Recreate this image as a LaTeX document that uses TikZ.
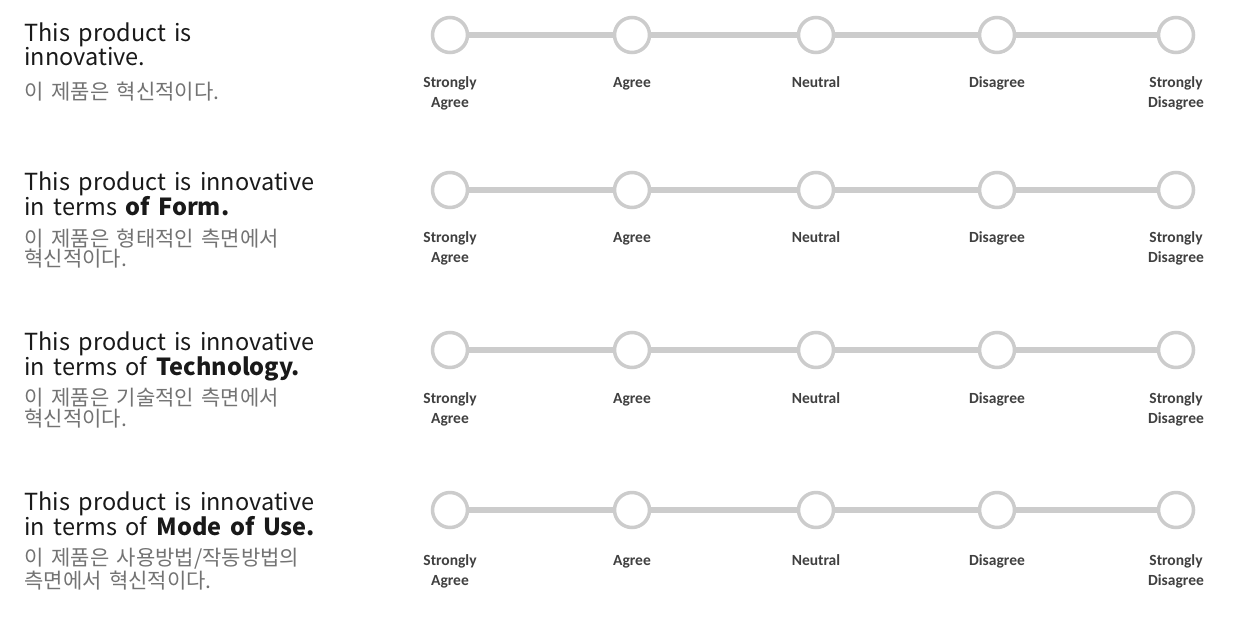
\documentclass[tikz,border=0pt]{standalone}
\usepackage{fontspec}
\newfontfamily\kr[WordSpace=1.6]{Noto Sans CJK KR}
\newfontfamily\lab{Carlito}
\begin{document}
\begin{tikzpicture}[x=1pt,y=-1pt,
 circ/.style={circle,draw=lgray,line width=3.5pt,fill=white,minimum size=35pt,inner sep=0pt},
 lbl/.style={font=\lab\bfseries\fontsize{15.5}{20}\selectfont,text=black!75,align=center,anchor=north},
 en/.style={font=\kr\fontsize{23.5}{20.5}\selectfont,anchor=north west,align=left,text=black!90},
 ko/.style={font=\kr\fontsize{21}{20.5}\selectfont,anchor=north west,align=left,text=black!55}]
\definecolor{lgray}{HTML}{CCCCCC}
\useasboundingbox (0,0) rectangle (1238,624);
\fill[white] (0,0) rectangle (1238,624);
\foreach \r/\cy/\ly in {1/35/70, 2/190/225, 3/350/386, 4/510/548}{
  \foreach \i/\x in {1/450,2/632,3/816,4/997,5/1176}{
    \node[circ] (c\r\i) at (\x,\cy) {};
  }
  \foreach \i [evaluate=\i as \j using int(\i+1)] in {1,2,3,4}{
    \draw[lgray,line width=6pt] (c\r\i) -- (c\r\j);
  }
  \node[lbl] (s\r1) at (450,\ly) {\strut Strongly\\Agree};
  \node[lbl] (s\r2) at (632,\ly) {\strut Agree};
  \node[lbl] (s\r3) at (816,\ly) {\strut Neutral};
  \node[lbl] (s\r4) at (997,\ly) {\strut Disagree};
  \node[lbl] (s\r5) at (1176,\ly) {\strut Strongly\\Disagree};
}
\node[en] (e1) at (21,19) {This product is\\innovative.};
\node[ko] (k1) at (21,78) {이 제품은 혁신적이다.};
\node[en] (e2) at (21,168) {This product is innovative\\in terms \textbf{of Form.}};
\node[ko] (k2) at (21,225) {이 제품은 형태적인 측면에서\\혁신적이다.};
\node[en] (e3) at (21,328) {This product is innovative\\in terms of \textbf{Technology.}};
\node[ko] (k3) at (21,385) {이 제품은 기술적인 측면에서\\혁신적이다.};
\node[en] (e4) at (21,488) {This product is innovative\\in terms of \textbf{Mode of Use.}};
\node[ko] (k4) at (21,545) {이 제품은 사용방법/작동방법의\\측면에서 혁신적이다.};
\end{tikzpicture}
\end{document}
